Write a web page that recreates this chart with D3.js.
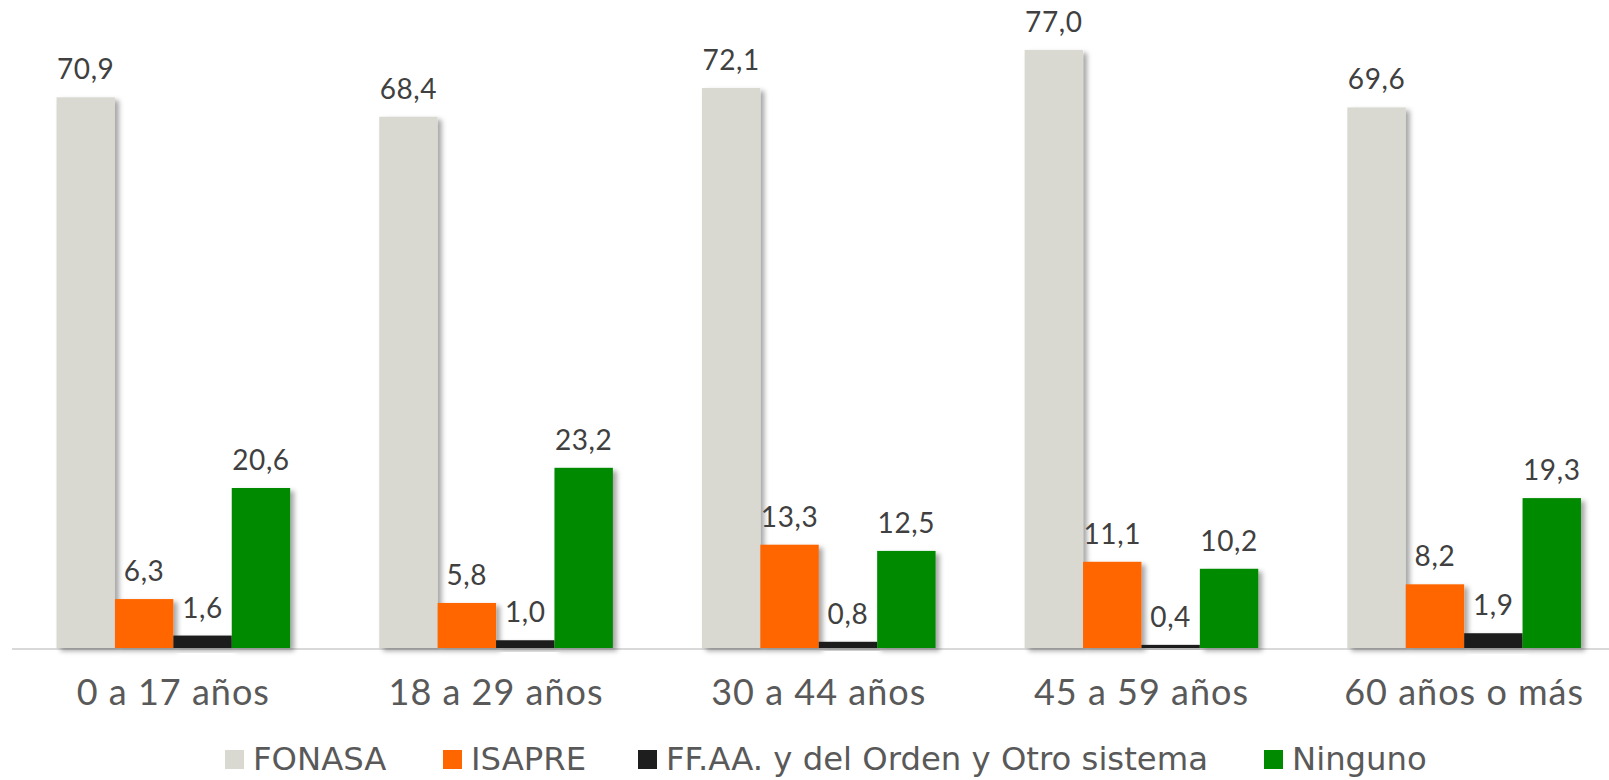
<!DOCTYPE html>
<html><head><meta charset="utf-8">
<script src="https://cdn.jsdelivr.net/npm/d3@7"></script>
<style>
html,body{margin:0;padding:0;background:#fff;}
svg{display:block;}
</style></head>
<body>
<svg id="chart" width="1609" height="780"></svg>
<script>
const categories = ["0 a 17 años","18 a 29 años","30 a 44 años","45 a 59 años","60 años o más"];
const seriesNames = ["FONASA","ISAPRE","FF.AA. y del Orden y Otro sistema","Ninguno"];
const fonasa = [70.9, 68.4, 72.1, 77.0, 69.6];
const isapre = [6.3, 5.8, 13.3, 11.1, 8.2];
const ffaa = [1.6, 1.0, 0.8, 0.4, 1.9];
const ninguno = [20.6, 23.2, 12.5, 10.2, 19.3];
const colors = ["#d9d9d2","#ff6600","#1e1e1e","#008a00"];

const seriesValues = [fonasa, isapre, ffaa, ninguno];
const svg = d3.select("#chart");

const defs = svg.append("defs");
const f = defs.append("filter").attr("id","shadow").attr("x","-20%").attr("y","-20%").attr("width","160%").attr("height","160%");
f.append("feDropShadow").attr("dx",4).attr("dy",3).attr("stdDeviation",2.5).attr("flood-color","#000").attr("flood-opacity",0.35);

const baseY = 648;
const y = d3.scaleLinear().domain([0, 77]).range([baseY, baseY - 77*7.767]);
const x0 = d3.scaleBand().domain(categories).range([12, 1625.5]).paddingInner(0.276).paddingOuter(0.138);
const x1 = d3.scaleBand().domain(seriesNames).range([0, x0.bandwidth()]);

// axis line
svg.append("line").attr("x1",12).attr("x2",1609).attr("y1",baseY+1).attr("y2",baseY+1)
  .attr("stroke","#d9d9d9").attr("stroke-width",2);

const groups = svg.selectAll("g.grp").data(categories).join("g")
  .attr("class","grp").attr("transform", d => `translate(${x0(d)},0)`);

groups.each(function(cat, ci){
  const g = d3.select(this);
  seriesNames.forEach((s, si) => {
    const v = seriesValues[si][ci];
    g.append("rect").attr("x", x1(s)).attr("y", y(v)).attr("width", x1.bandwidth())
      .attr("height", baseY - y(v)).attr("fill", colors[si]).attr("filter","url(#shadow)");
  });
  seriesNames.forEach((s, si) => {
    const v = seriesValues[si][ci];
    g.append("text").attr("x", x1(s) + x1.bandwidth()/2).attr("y", y(v) - 18)
      .attr("text-anchor","middle").attr("font-family","Lato, sans-serif").attr("font-size",28)
      .attr("letter-spacing",0.6)
      .attr("fill","#404040").text(d3.format(".1f")(v).replace(".",","));
  });
});

// x axis labels
const xAxis = d3.axisBottom(x0).tickSize(0).tickPadding(0);
const ax = svg.append("g").attr("transform", `translate(0,${baseY})`).call(xAxis);
ax.select(".domain").remove();
ax.selectAll("text").attr("font-family","Lato, sans-serif").attr("font-size",36)
  .attr("letter-spacing",1)
  .attr("fill","#595959").attr("dy",null).attr("y",57);

// legend
const legendX = [225, 443, 638, 1264];
const leg = svg.append("g");
seriesNames.forEach((s, i) => {
  leg.append("rect").attr("x", legendX[i]).attr("y", 750).attr("width", 19).attr("height", 19).attr("fill", colors[i]);
  leg.append("text").attr("x", legendX[i] + 28).attr("y", 770).attr("font-family","'DejaVu Sans', sans-serif")
    .attr("font-size",32.3).attr("fill","#595959").text(s);
});
</script>
</body></html>
